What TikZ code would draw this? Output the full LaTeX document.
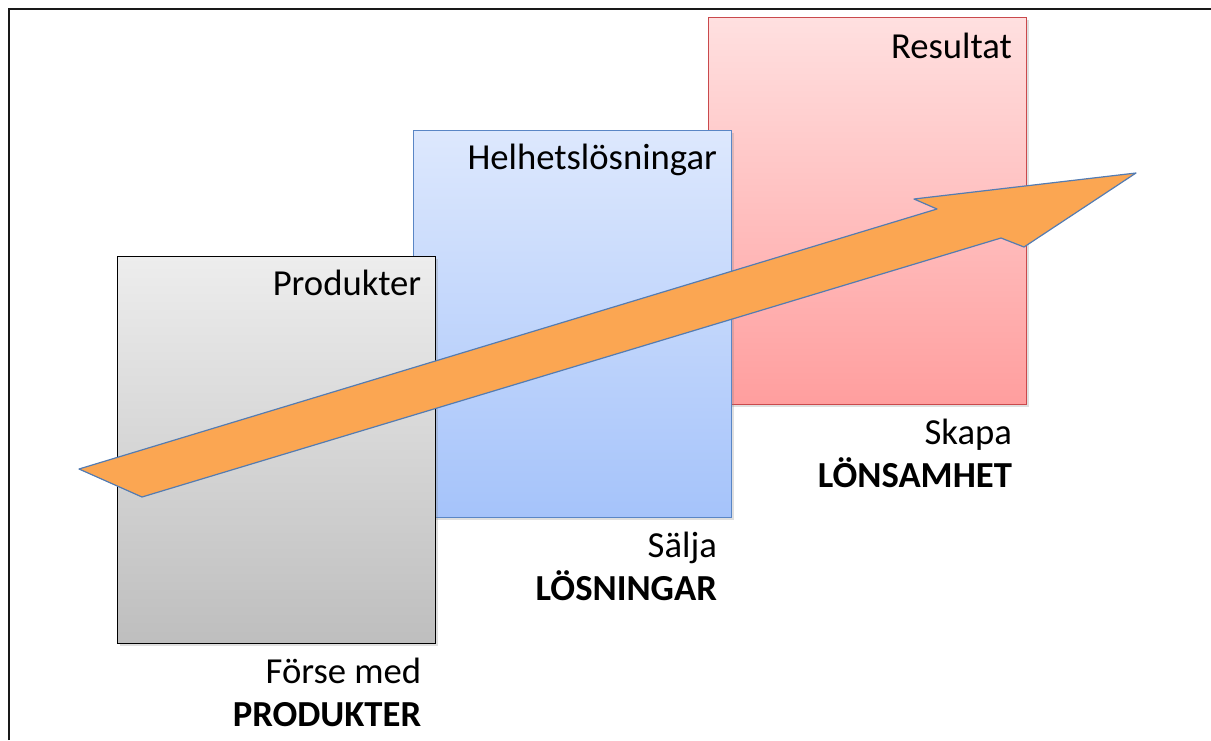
\documentclass[tikz,border=0pt]{standalone}
\usepackage{fontspec}
\setmainfont{Carlito}
\usetikzlibrary{positioning}
\usetikzlibrary{shadows}
\definecolor{grayTop}{RGB}{237,237,237}
\definecolor{grayBot}{RGB}{190,190,190}
\definecolor{blueTop}{RGB}{221,232,253}
\definecolor{blueBot}{RGB}{165,195,250}
\definecolor{blueLine}{RGB}{90,134,197}
\definecolor{redTop}{RGB}{255,224,224}
\definecolor{redBot}{RGB}{255,158,158}
\definecolor{redLine}{RGB}{201,73,76}
\definecolor{arrowFill}{RGB}{251,166,82}
\definecolor{arrowLine}{RGB}{84,124,178}
\tikzset{
  box/.style={rectangle, minimum width=238.5pt, minimum height=290.25pt, inner sep=0pt,
    drop shadow={shadow xshift=2pt, shadow yshift=-2pt, opacity=0.25}},
  head/.style={anchor=base east, inner sep=0pt, font=\fontsize{27.5}{33}\selectfont},
  caption/.style={anchor=base east, inner sep=0pt, font=\fontsize{27.5}{33}\selectfont},
}
\begin{document}
\begin{tikzpicture}[x=0.75pt, y=-0.75pt]
    \useasboundingbox (0,0) rectangle (1211,740);
    %frame
    \draw[line width=1.8pt, black!90] (9,740) -- (9,9) -- (1211,9);
    %boxes, back to front
    \node[box, draw=redLine, line width=1pt, top color=redTop, bottom color=redBot] (res) at (867.5,211) {};
    \node[box, draw=blueLine, line width=1pt, top color=blueTop, bottom color=blueBot] (hel) at (572.5,324) {};
    \node[box, draw=black, line width=1.4pt, top color=grayTop, bottom color=grayBot] (prod) at (276.5,450) {};
    %titles
    \node[head] (prodtitle) at ([xshift=-11.25pt, yshift=-30pt]prod.north east) {Produkter};
    \node[head] (heltitle) at ([xshift=-11.25pt, yshift=-30pt]hel.north east) {Helhetslösningar};
    \node[head] (restitle) at ([xshift=-11.25pt, yshift=-31pt]res.north east) {Resultat};
    %captions under the boxes
    \node[caption] (prodcap) at ([xshift=-11.25pt, yshift=-29.5pt]prod.south east) {Förse med};
    \node[caption] (prodbold) at ([xshift=-11.25pt, yshift=-61.5pt]prod.south east) {\textbf{PRODUKTER}};
    \node[caption] (helcap) at ([xshift=-11.25pt, yshift=-29.5pt]hel.south east) {Sälja};
    \node[caption] (helbold) at ([xshift=-11.25pt, yshift=-61.5pt]hel.south east) {\textbf{LÖSNINGAR}};
    \node[caption] (rescap) at ([xshift=-11.25pt, yshift=-29.5pt]res.south east) {Skapa};
    \node[caption] (resbold) at ([xshift=-11.25pt, yshift=-61.5pt]res.south east) {\textbf{LÖNSAMHET}};
    %big arrow
    \filldraw[fill=arrowFill, draw=arrowLine, line width=0.9pt, line join=round]
      (79,469) -- (937,209) -- (914,199) -- (1136,173) -- (1024,247) -- (1001,238) -- (142,497) -- cycle;
\end{tikzpicture}
\end{document}
